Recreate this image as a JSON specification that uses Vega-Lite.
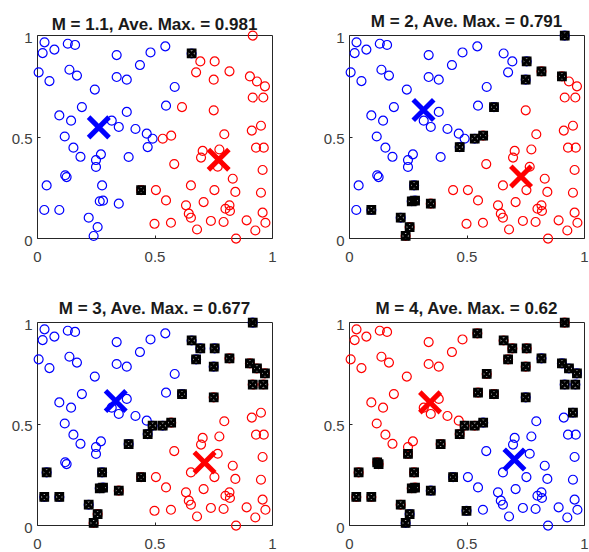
{
  "$schema": "https://vega.github.io/schema/vega-lite/v6.json",
  "padding": {"left": 10, "top": 12, "right": 0, "bottom": 0},
  "background": "white",
  "datasets": {
    "pts": [
      {"x":0.032,"y":0.964,"c1":"b","c2":"b","c3":"b","c4":"r"},
      {"x":0.024,"y":0.911,"c1":"b","c2":"b","c3":"b","c4":"r"},
      {"x":0.074,"y":0.928,"c1":"b","c2":"b","c3":"b","c4":"r"},
      {"x":0.131,"y":0.957,"c1":"b","c2":"b","c3":"b","c4":"r"},
      {"x":0.162,"y":0.951,"c1":"b","c2":"b","c3":"b","c4":"r"},
      {"x":0.339,"y":0.901,"c1":"b","c2":"b","c3":"b","c4":"r"},
      {"x":0.483,"y":0.914,"c1":"b","c2":"b","c3":"b","c4":"r"},
      {"x":0.438,"y":0.852,"c1":"b","c2":"b","c3":"b","c4":"r"},
      {"x":0.007,"y":0.816,"c1":"b","c2":"b","c3":"b","c4":"r"},
      {"x":0.053,"y":0.773,"c1":"b","c2":"b","c3":"b","c4":"r"},
      {"x":0.138,"y":0.829,"c1":"b","c2":"b","c3":"b","c4":"r"},
      {"x":0.170,"y":0.800,"c1":"b","c2":"b","c3":"b","c4":"r"},
      {"x":0.339,"y":0.793,"c1":"b","c2":"b","c3":"b","c4":"r"},
      {"x":0.382,"y":0.780,"c1":"b","c2":"b","c3":"b","c4":"r"},
      {"x":0.246,"y":0.731,"c1":"b","c2":"b","c3":"b","c4":"r"},
      {"x":0.191,"y":0.645,"c1":"b","c2":"b","c3":"b","c4":"r"},
      {"x":0.095,"y":0.604,"c1":"b","c2":"b","c3":"b","c4":"r"},
      {"x":0.145,"y":0.578,"c1":"b","c2":"b","c3":"b","c4":"r"},
      {"x":0.382,"y":0.621,"c1":"b","c2":"b","c3":"b","c4":"r"},
      {"x":0.318,"y":0.578,"c1":"b","c2":"b","c3":"b","c4":"r"},
      {"x":0.348,"y":0.547,"c1":"b","c2":"b","c3":"b","c4":"r"},
      {"x":0.419,"y":0.537,"c1":"b","c2":"b","c3":"b","c4":"r"},
      {"x":0.467,"y":0.514,"c1":"b","c2":"b","c3":"b","c4":"r"},
      {"x":0.492,"y":0.489,"c1":"b","c2":"b","c3":"B","c4":"R"},
      {"x":0.118,"y":0.500,"c1":"b","c2":"b","c3":"b","c4":"r"},
      {"x":0.546,"y":0.944,"c1":"b","c2":"b","c3":"b","c4":"R"},
      {"x":0.586,"y":0.744,"c1":"b","c2":"b","c3":"b","c4":"R"},
      {"x":0.549,"y":0.652,"c1":"b","c2":"b","c3":"b","c4":"R"},
      {"x":0.155,"y":0.445,"c1":"b","c2":"b","c3":"b","c4":"r"},
      {"x":0.185,"y":0.400,"c1":"b","c2":"b","c3":"b","c4":"r"},
      {"x":0.272,"y":0.412,"c1":"b","c2":"b","c3":"b","c4":"r"},
      {"x":0.251,"y":0.384,"c1":"b","c2":"b","c3":"b","c4":"r"},
      {"x":0.251,"y":0.350,"c1":"b","c2":"b","c3":"b","c4":"R"},
      {"x":0.390,"y":0.399,"c1":"b","c2":"b","c3":"B","c4":"R"},
      {"x":0.471,"y":0.448,"c1":"b","c2":"B","c3":"B","c4":"R"},
      {"x":0.120,"y":0.309,"c1":"b","c2":"b","c3":"b","c4":"R"},
      {"x":0.126,"y":0.300,"c1":"b","c2":"b","c3":"b","c4":"R"},
      {"x":0.041,"y":0.259,"c1":"b","c2":"b","c3":"B","c4":"R"},
      {"x":0.277,"y":0.259,"c1":"b","c2":"B","c3":"B","c4":"R"},
      {"x":0.267,"y":0.181,"c1":"b","c2":"B","c3":"B","c4":"R"},
      {"x":0.281,"y":0.184,"c1":"b","c2":"B","c3":"B","c4":"R"},
      {"x":0.348,"y":0.169,"c1":"b","c2":"R","c3":"R","c4":"B"},
      {"x":0.031,"y":0.138,"c1":"b","c2":"b","c3":"B","c4":"R"},
      {"x":0.095,"y":0.138,"c1":"b","c2":"B","c3":"B","c4":"R"},
      {"x":0.220,"y":0.100,"c1":"b","c2":"B","c3":"B","c4":"R"},
      {"x":0.258,"y":0.054,"c1":"b","c2":"R","c3":"R","c4":"B"},
      {"x":0.241,"y":0.010,"c1":"b","c2":"R","c3":"R","c4":"B"},
      {"x":0.658,"y":0.909,"c1":"B","c2":"b","c3":"B","c4":"R"},
      {"x":0.443,"y":0.236,"c1":"R","c2":"r","c3":"R","c4":"B"},
      {"x":0.918,"y":0.997,"c1":"r","c2":"B","c3":"B","c4":"R"},
      {"x":0.695,"y":0.870,"c1":"r","c2":"b","c3":"B","c4":"R"},
      {"x":0.756,"y":0.870,"c1":"r","c2":"B","c3":"B","c4":"R"},
      {"x":0.677,"y":0.816,"c1":"r","c2":"b","c3":"B","c4":"R"},
      {"x":0.752,"y":0.780,"c1":"r","c2":"B","c3":"B","c4":"R"},
      {"x":0.819,"y":0.821,"c1":"r","c2":"R","c3":"R","c4":"B"},
      {"x":0.906,"y":0.796,"c1":"r","c2":"R","c3":"R","c4":"B"},
      {"x":0.936,"y":0.771,"c1":"r","c2":"r","c3":"R","c4":"B"},
      {"x":0.970,"y":0.747,"c1":"r","c2":"r","c3":"R","c4":"B"},
      {"x":0.918,"y":0.692,"c1":"r","c2":"r","c3":"R","c4":"B"},
      {"x":0.963,"y":0.692,"c1":"r","c2":"r","c3":"R","c4":"B"},
      {"x":0.617,"y":0.645,"c1":"r","c2":"B","c3":"B","c4":"R"},
      {"x":0.752,"y":0.629,"c1":"r","c2":"r","c3":"R","c4":"B"},
      {"x":0.953,"y":0.553,"c1":"r","c2":"r","c3":"r","c4":"B"},
      {"x":0.914,"y":0.529,"c1":"r","c2":"r","c3":"r","c4":"b"},
      {"x":0.797,"y":0.511,"c1":"r","c2":"r","c3":"r","c4":"b"},
      {"x":0.571,"y":0.504,"c1":"r","c2":"R","c3":"R","c4":"B"},
      {"x":0.535,"y":0.489,"c1":"r","c2":"B","c3":"B","c4":"R"},
      {"x":0.705,"y":0.429,"c1":"r","c2":"r","c3":"r","c4":"b"},
      {"x":0.698,"y":0.396,"c1":"r","c2":"r","c3":"r","c4":"b"},
      {"x":0.776,"y":0.436,"c1":"r","c2":"r","c3":"r","c4":"b"},
      {"x":0.769,"y":0.351,"c1":"r","c2":"r","c3":"r","c4":"b"},
      {"x":0.584,"y":0.364,"c1":"r","c2":"r","c3":"r","c4":"b"},
      {"x":0.833,"y":0.292,"c1":"r","c2":"r","c3":"r","c4":"b"},
      {"x":0.932,"y":0.445,"c1":"r","c2":"r","c3":"r","c4":"b"},
      {"x":0.965,"y":0.445,"c1":"r","c2":"r","c3":"r","c4":"b"},
      {"x":0.960,"y":0.335,"c1":"r","c2":"r","c3":"r","c4":"b"},
      {"x":0.506,"y":0.236,"c1":"r","c2":"r","c3":"r","c4":"b"},
      {"x":0.655,"y":0.259,"c1":"r","c2":"r","c3":"r","c4":"b"},
      {"x":0.755,"y":0.236,"c1":"r","c2":"r","c3":"r","c4":"b"},
      {"x":0.844,"y":0.227,"c1":"r","c2":"r","c3":"r","c4":"b"},
      {"x":0.549,"y":0.185,"c1":"r","c2":"r","c3":"r","c4":"b"},
      {"x":0.709,"y":0.177,"c1":"r","c2":"r","c3":"r","c4":"b"},
      {"x":0.634,"y":0.161,"c1":"r","c2":"r","c3":"r","c4":"b"},
      {"x":0.953,"y":0.223,"c1":"r","c2":"r","c3":"r","c4":"b"},
      {"x":0.802,"y":0.144,"c1":"r","c2":"r","c3":"r","c4":"b"},
      {"x":0.819,"y":0.161,"c1":"r","c2":"r","c3":"r","c4":"b"},
      {"x":0.821,"y":0.133,"c1":"r","c2":"r","c3":"r","c4":"b"},
      {"x":0.646,"y":0.120,"c1":"r","c2":"r","c3":"r","c4":"b"},
      {"x":0.655,"y":0.100,"c1":"r","c2":"r","c3":"r","c4":"b"},
      {"x":0.960,"y":0.125,"c1":"r","c2":"r","c3":"r","c4":"b"},
      {"x":0.972,"y":0.075,"c1":"r","c2":"r","c3":"r","c4":"b"},
      {"x":0.892,"y":0.087,"c1":"r","c2":"r","c3":"r","c4":"b"},
      {"x":0.794,"y":0.079,"c1":"r","c2":"r","c3":"r","c4":"b"},
      {"x":0.740,"y":0.084,"c1":"r","c2":"r","c3":"r","c4":"b"},
      {"x":0.570,"y":0.075,"c1":"r","c2":"r","c3":"r","c4":"b"},
      {"x":0.500,"y":0.070,"c1":"r","c2":"r","c3":"r","c4":"B"},
      {"x":0.681,"y":0.042,"c1":"r","c2":"r","c3":"r","c4":"b"},
      {"x":0.929,"y":0.037,"c1":"r","c2":"r","c3":"r","c4":"b"},
      {"x":0.847,"y":-0.003,"c1":"r","c2":"r","c3":"r","c4":"b"}
    ],
    "ctr": [
      {"p":1,"x":0.263,"y":0.545,"c":"b"},
      {"p":1,"x":0.773,"y":0.386,"c":"r"},
      {"p":2,"x":0.317,"y":0.631,"c":"b"},
      {"p":2,"x":0.732,"y":0.303,"c":"r"},
      {"p":3,"x":0.335,"y":0.611,"c":"b"},
      {"p":3,"x":0.713,"y":0.308,"c":"r"},
      {"p":4,"x":0.345,"y":0.604,"c":"r"},
      {"p":4,"x":0.704,"y":0.323,"c":"b"}
    ]
  },
  "columns": 2,
  "spacing": {"row": 34, "column": 45},
  "concat": [
    {
      "width": 235, "height": 203,
      "title": "M = 1.1, Ave. Max. = 0.981",
      "layer": [
        {"data": {"name": "pts"}, "mark": {"type": "point", "shape": "circle", "filled": false, "size": 80, "strokeWidth": 1.2, "opacity": 1},
         "encoding": {"x": {"field": "x", "type": "quantitative", "scale": {"domain": [0, 1], "nice": false, "zero": false}, "axis": {"values": [0, 0.5, 1], "format": "~g", "title": null}},
                      "y": {"field": "y", "type": "quantitative", "scale": {"domain": [0, 1], "nice": false, "zero": false}, "axis": {"values": [0, 0.5, 1], "format": "~g", "title": null}},
                      "color": {"field": "c1", "type": "nominal", "scale": {"domain": ["b", "r", "B", "R"], "range": ["#0000ff", "#ff0000", "#0000ff", "#ff0000"]}, "legend": null}}},
        {"data": {"name": "ctr"}, "transform": [{"filter": "datum.p == 1"}], "mark": {"type": "point", "shape": "M-1,-1L1,1M-1,1L1,-1", "filled": false, "size": 420, "strokeWidth": 5, "opacity": 1},
         "encoding": {"x": {"field": "x", "type": "quantitative"}, "y": {"field": "y", "type": "quantitative"},
                      "color": {"field": "c", "type": "nominal", "scale": {"domain": ["b", "r", "B", "R"], "range": ["#0000ff", "#ff0000", "#0000ff", "#ff0000"]}, "legend": null}}},
        {"data": {"name": "pts"}, "transform": [{"filter": {"field": "c1", "oneOf": ["B", "R"]}}], "mark": {"type": "point", "shape": "square", "filled": false, "size": 60, "strokeWidth": 2, "color": "black", "opacity": 1},
         "encoding": {"x": {"field": "x", "type": "quantitative"}, "y": {"field": "y", "type": "quantitative"}}},
        {"data": {"name": "pts"}, "transform": [{"filter": {"field": "c1", "oneOf": ["B", "R"]}}], "mark": {"type": "point", "shape": "M-1,-1L1,1M-1,1L1,-1", "filled": false, "size": 56, "strokeWidth": 3, "color": "black", "opacity": 1},
         "encoding": {"x": {"field": "x", "type": "quantitative"}, "y": {"field": "y", "type": "quantitative"}}}
      ]
    },
    {
      "width": 235, "height": 203,
      "title": "M = 2, Ave. Max. = 0.791",
      "layer": [
        {"data": {"name": "pts"}, "mark": {"type": "point", "shape": "circle", "filled": false, "size": 80, "strokeWidth": 1.2, "opacity": 1},
         "encoding": {"x": {"field": "x", "type": "quantitative", "scale": {"domain": [0, 1], "nice": false, "zero": false}, "axis": {"values": [0, 0.5, 1], "format": "~g", "title": null}},
                      "y": {"field": "y", "type": "quantitative", "scale": {"domain": [0, 1], "nice": false, "zero": false}, "axis": {"values": [0, 0.5, 1], "format": "~g", "title": null}},
                      "color": {"field": "c2", "type": "nominal", "scale": {"domain": ["b", "r", "B", "R"], "range": ["#0000ff", "#ff0000", "#0000ff", "#ff0000"]}, "legend": null}}},
        {"data": {"name": "ctr"}, "transform": [{"filter": "datum.p == 2"}], "mark": {"type": "point", "shape": "M-1,-1L1,1M-1,1L1,-1", "filled": false, "size": 420, "strokeWidth": 5, "opacity": 1},
         "encoding": {"x": {"field": "x", "type": "quantitative"}, "y": {"field": "y", "type": "quantitative"},
                      "color": {"field": "c", "type": "nominal", "scale": {"domain": ["b", "r", "B", "R"], "range": ["#0000ff", "#ff0000", "#0000ff", "#ff0000"]}, "legend": null}}},
        {"data": {"name": "pts"}, "transform": [{"filter": {"field": "c2", "oneOf": ["B", "R"]}}], "mark": {"type": "point", "shape": "square", "filled": false, "size": 60, "strokeWidth": 2, "color": "black", "opacity": 1},
         "encoding": {"x": {"field": "x", "type": "quantitative"}, "y": {"field": "y", "type": "quantitative"}}},
        {"data": {"name": "pts"}, "transform": [{"filter": {"field": "c2", "oneOf": ["B", "R"]}}], "mark": {"type": "point", "shape": "M-1,-1L1,1M-1,1L1,-1", "filled": false, "size": 56, "strokeWidth": 3, "color": "black", "opacity": 1},
         "encoding": {"x": {"field": "x", "type": "quantitative"}, "y": {"field": "y", "type": "quantitative"}}}
      ]
    },
    {
      "width": 235, "height": 203,
      "title": "M = 3, Ave. Max. = 0.677",
      "layer": [
        {"data": {"name": "pts"}, "mark": {"type": "point", "shape": "circle", "filled": false, "size": 80, "strokeWidth": 1.2, "opacity": 1},
         "encoding": {"x": {"field": "x", "type": "quantitative", "scale": {"domain": [0, 1], "nice": false, "zero": false}, "axis": {"values": [0, 0.5, 1], "format": "~g", "title": null}},
                      "y": {"field": "y", "type": "quantitative", "scale": {"domain": [0, 1], "nice": false, "zero": false}, "axis": {"values": [0, 0.5, 1], "format": "~g", "title": null}},
                      "color": {"field": "c3", "type": "nominal", "scale": {"domain": ["b", "r", "B", "R"], "range": ["#0000ff", "#ff0000", "#0000ff", "#ff0000"]}, "legend": null}}},
        {"data": {"name": "ctr"}, "transform": [{"filter": "datum.p == 3"}], "mark": {"type": "point", "shape": "M-1,-1L1,1M-1,1L1,-1", "filled": false, "size": 420, "strokeWidth": 5, "opacity": 1},
         "encoding": {"x": {"field": "x", "type": "quantitative"}, "y": {"field": "y", "type": "quantitative"},
                      "color": {"field": "c", "type": "nominal", "scale": {"domain": ["b", "r", "B", "R"], "range": ["#0000ff", "#ff0000", "#0000ff", "#ff0000"]}, "legend": null}}},
        {"data": {"name": "pts"}, "transform": [{"filter": {"field": "c3", "oneOf": ["B", "R"]}}], "mark": {"type": "point", "shape": "square", "filled": false, "size": 60, "strokeWidth": 2, "color": "black", "opacity": 1},
         "encoding": {"x": {"field": "x", "type": "quantitative"}, "y": {"field": "y", "type": "quantitative"}}},
        {"data": {"name": "pts"}, "transform": [{"filter": {"field": "c3", "oneOf": ["B", "R"]}}], "mark": {"type": "point", "shape": "M-1,-1L1,1M-1,1L1,-1", "filled": false, "size": 56, "strokeWidth": 3, "color": "black", "opacity": 1},
         "encoding": {"x": {"field": "x", "type": "quantitative"}, "y": {"field": "y", "type": "quantitative"}}}
      ]
    },
    {
      "width": 235, "height": 203,
      "title": "M = 4, Ave. Max. = 0.62",
      "layer": [
        {"data": {"name": "pts"}, "mark": {"type": "point", "shape": "circle", "filled": false, "size": 80, "strokeWidth": 1.2, "opacity": 1},
         "encoding": {"x": {"field": "x", "type": "quantitative", "scale": {"domain": [0, 1], "nice": false, "zero": false}, "axis": {"values": [0, 0.5, 1], "format": "~g", "title": null}},
                      "y": {"field": "y", "type": "quantitative", "scale": {"domain": [0, 1], "nice": false, "zero": false}, "axis": {"values": [0, 0.5, 1], "format": "~g", "title": null}},
                      "color": {"field": "c4", "type": "nominal", "scale": {"domain": ["b", "r", "B", "R"], "range": ["#0000ff", "#ff0000", "#0000ff", "#ff0000"]}, "legend": null}}},
        {"data": {"name": "ctr"}, "transform": [{"filter": "datum.p == 4"}], "mark": {"type": "point", "shape": "M-1,-1L1,1M-1,1L1,-1", "filled": false, "size": 420, "strokeWidth": 5, "opacity": 1},
         "encoding": {"x": {"field": "x", "type": "quantitative"}, "y": {"field": "y", "type": "quantitative"},
                      "color": {"field": "c", "type": "nominal", "scale": {"domain": ["b", "r", "B", "R"], "range": ["#0000ff", "#ff0000", "#0000ff", "#ff0000"]}, "legend": null}}},
        {"data": {"name": "pts"}, "transform": [{"filter": {"field": "c4", "oneOf": ["B", "R"]}}], "mark": {"type": "point", "shape": "square", "filled": false, "size": 60, "strokeWidth": 2, "color": "black", "opacity": 1},
         "encoding": {"x": {"field": "x", "type": "quantitative"}, "y": {"field": "y", "type": "quantitative"}}},
        {"data": {"name": "pts"}, "transform": [{"filter": {"field": "c4", "oneOf": ["B", "R"]}}], "mark": {"type": "point", "shape": "M-1,-1L1,1M-1,1L1,-1", "filled": false, "size": 56, "strokeWidth": 3, "color": "black", "opacity": 1},
         "encoding": {"x": {"field": "x", "type": "quantitative"}, "y": {"field": "y", "type": "quantitative"}}}
      ]
    }
  ],
  "resolve": {"scale": {"color": "independent"}},
  "config": {
    "view": {"stroke": "#262626", "strokeWidth": 1},
    "axis": {"grid": false, "domain": false, "labelFont": "Liberation Sans", "labelFontSize": 15, "labelColor": "#404040", "tickColor": "#262626", "tickSize": -3, "labelPadding": 14, "labelFlush": false, "labelOverlap": false},
    "axisY": {"labelPadding": 8, "labelOffset": 2},
    "title": {"font": "Liberation Sans", "fontSize": 17, "fontWeight": "bold", "color": "#1a1a1a", "offset": -5, "anchor": "middle"}
  }
}
